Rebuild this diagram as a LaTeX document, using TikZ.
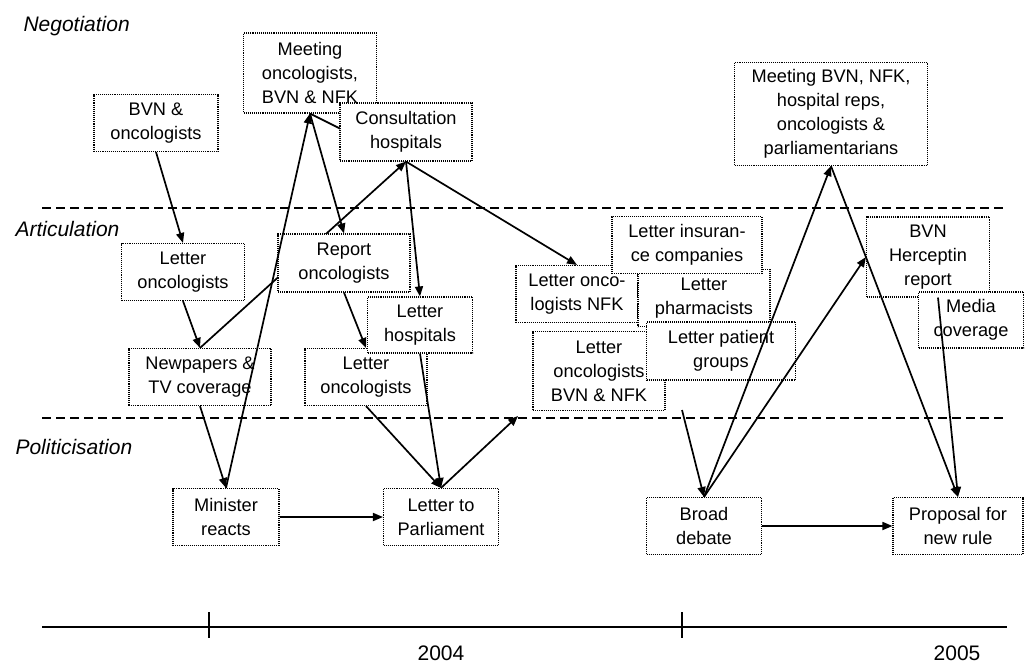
\documentclass[tikz,border=0pt]{standalone}
\usepackage{fontspec}
\setmainfont{Liberation Sans}
\usetikzlibrary{arrows.meta,positioning,backgrounds}

\tikzset{
  stage/.style={draw, densely dotted, line width=1.1pt, fill=white, align=center, inner sep=0pt, font=\fontsize{18.2}{24}\selectfont},
  phase/.style={anchor=west, font=\fontsize{21}{25}\selectfont\itshape},
  flow/.style={line width=1.7pt, -{Triangle[length=10pt,width=8pt]}},
  level/.style={line width=1.3pt, dash pattern=on 9pt off 5pt},
  year/.style={inner sep=0pt, font=\fontsize{21}{25}\selectfont}
}

\begin{document}
\begin{tikzpicture}[x=1pt,y=-1pt]
\useasboundingbox (0,0) rectangle (1026,664);
\node[phase] (neg) at (20,26) {Negotiation};
\node[phase] (art) at (12,229) {Articulation};
\node[phase] (pol) at (12,447) {Politicisation};
\draw[level] (42,208) -- (1007,208);
\draw[level] (42,418) -- (1007,418);
\node[stage, minimum width=124, minimum height=57] (bvn) at (156,123) {BVN \&\\oncologists};
\node[stage, minimum width=133, minimum height=80] (meetA) at (310,73) {Meeting\\oncologists,\\BVN \& NFK};
\node[stage, minimum width=132, minimum height=58] (consult) at (406,132) {Consultation\\hospitals};
\node[stage, minimum width=123, minimum height=57] (letoncA) at (183,272) {Letter\\oncologists};
\node[stage, minimum width=132, minimum height=58] (report) at (344,263) {Report\\oncologists};
\node[stage, minimum width=142, minimum height=57] (news) at (200,377) {Newpapers \&\\TV coverage};
\node[stage, minimum width=122, minimum height=57] (letoncB) at (366,377) {Letter\\oncologists};
\node[stage, minimum width=105, minimum height=56] (lethosp) at (420,325) {Letter\\hospitals};
\node[stage, minimum width=122, minimum height=57] (letnfk) at (577,294) {Letter onco-\\logists NFK};
\node[stage, minimum width=132, minimum height=57] (pharm) at (704,298) {Letter\\pharmacists};
\node[stage, minimum width=150, minimum height=57] (insur) at (687,245) {Letter insuran-\\ce companies};
\node[stage, minimum width=132, minimum height=79] (letbvn) at (599,371) {Letter\\oncologists\\BVN \& NFK};
\node[stage, minimum width=149, minimum height=58] (patient) at (721,351) {Letter patient\\groups};
\node[stage, minimum width=193, minimum height=103] (meetB) at (831,114) {Meeting BVN, NFK,\\hospital reps,\\oncologists \&\\parliamentarians};
\node[stage, minimum width=123, minimum height=80] (hercep) at (928,257) {BVN\\Herceptin\\report};
\node[stage, minimum width=105, minimum height=56] (media) at (971,320) {Media\\coverage};
\node[stage, minimum width=106, minimum height=57] (minister) at (226,517) {Minister\\reacts};
\node[stage, minimum width=115, minimum height=57] (parl) at (441,517) {Letter to\\Parliament};
\node[stage, minimum width=115, minimum height=57] (broad) at (704,526) {Broad\\debate};
\node[stage, minimum width=130, minimum height=57] (proposal) at (958,526) {Proposal for\\new rule};
\coordinate (toletters) at (518,416);
\coordinate (fromletters) at (682,410);
\begin{scope}[on background layer]
\draw[flow] (news.north) -- (consult.south);
\draw[flow] (meetA.south) -- (consult.south);
\end{scope}
\draw[flow] (bvn.south) -- (letoncA.north);
\draw[flow] (letoncA.south) -- (news.north);
\draw[flow] (news.south) -- (minister.north);
\draw[flow] (minister.north) -- (meetA.south);
\draw[flow] (meetA.south) -- (report.north);
\draw[flow] (consult.south) -- (lethosp.north);
\draw[flow] (consult.south) -- (letnfk.north);
\draw[flow] (report.south) -- (letoncB.north);
\draw[flow] (letoncB.south) -- (parl.north);
\draw[flow] (lethosp.south) -- (parl.north);
\draw[flow] (minister.east) -- (parl.west);
\draw[flow] (parl.north) -- (toletters);
\draw[flow] (fromletters) -- (broad.north);
\draw[flow] (broad.north) -- (meetB.south);
\draw[flow] (broad.north) -- (hercep.west);
\draw[flow] (meetB.south) -- (proposal.north);
\draw[flow] ([xshift=10pt]hercep.south) -- (proposal.north);
\draw[flow] (broad.east) -- (proposal.west);
\draw[line width=2pt] (42,627) -- (1007,627);
\draw[line width=1.3pt] (209,612) -- (209,638);
\draw[line width=1.3pt] (682,612) -- (682,638);
\node[year] (yearA) at (441,653) {2004};
\node[year] (yearB) at (957,653) {2005};
\end{tikzpicture}
\end{document}
